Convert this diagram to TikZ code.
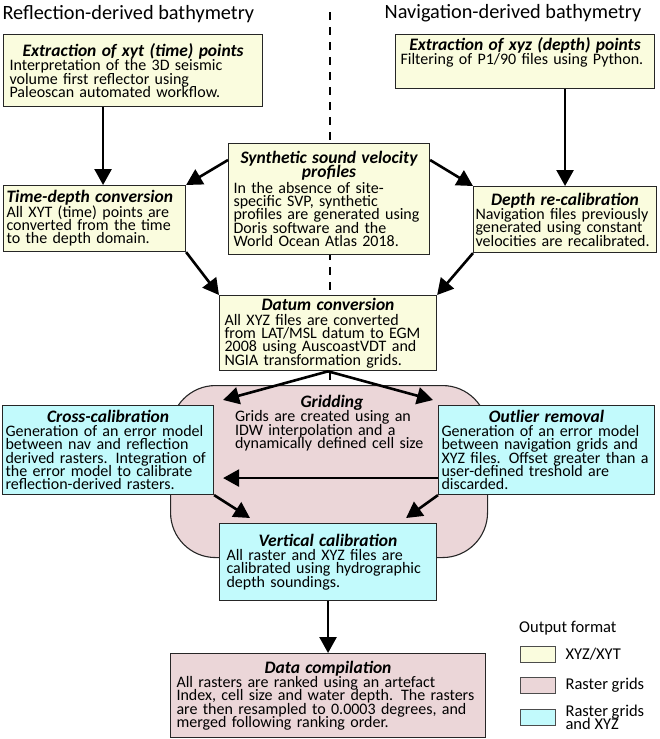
\documentclass[tikz,border=0pt]{standalone}
\usepackage{fontspec}
\setmainfont{Carlito}
\usetikzlibrary{arrows.meta}

\definecolor{xyzfill}{RGB}{250,252,222}
\definecolor{rasterfill}{RGB}{235,214,216}
\definecolor{bothfill}{RGB}{194,250,252}

% tight leading, lines may touch
\newcommand{\bodysize}{\fontsize{16}{13.3}\selectfont\lineskiplimit=-20pt\relax}
\newcommand{\headsize}{\fontsize{17.5}{14}\selectfont}
\newcommand{\keysize}{\fontsize{16.5}{13.5}\selectfont\lineskiplimit=-20pt\relax}
\newcommand{\bodyskip}{\rightskip=0pt plus 1fil minus 20pt\relax}
\newcommand{\stagehead}[1]{{\centering\bfseries\itshape\headsize #1\par}\vspace{1pt}\bodyskip}

\begin{document}
\begin{tikzpicture}[
  x=1pt, y=-1pt,
  font=\bodysize,
  stage/.style={
    draw=black!85,
    line width=1.1pt,
    anchor=north west,
    align=left,
    inner xsep=5pt,
    inner ysep=3pt
  },
  xyzbox/.style={stage, fill=xyzfill},
  rasterbox/.style={stage, fill=rasterfill},
  bothbox/.style={stage, fill=bothfill},
  swatch/.style={draw=black!70, line width=0.7pt, minimum width=35pt, minimum height=16pt, inner sep=0pt},
  key/.style={anchor=west, font=\keysize, xshift=10pt, inner sep=0pt, align=left},
  header/.style={font=\fontsize{20.3}{22}\selectfont},
  flow/.style={-{Triangle[length=16pt,width=17pt]}, line width=2.6pt}
]
\useasboundingbox (0,0) rectangle (660,739);

% split between the two branches
\draw[line width=1.6pt, dash pattern=on 8pt off 7pt] (330,12) -- (330,385);

\node[header, anchor=west] (reflTitle) at (-1,14) {Reflection-derived bathymetry};
\node[header] (navTitle) at (513,13) {Navigation-derived bathymetry};

% gridding blob sits behind the calibration boxes
\node[draw=black!85, line width=1.1pt, fill=rasterfill, rounded corners=45pt,
  minimum width=317pt, minimum height=172pt, anchor=north west] (gridBlob) at (170,385) {};
\node[anchor=north, text width=194pt, align=left, inner sep=0pt] (gridding) at (332,395)
  {\stagehead{Gridding}
   Grids are created using an\\
   IDW interpolation and a\\
   dynamically defined cell size};

\node[xyzbox, minimum width=259pt, minimum height=72pt, text width=247pt] (xytPoints) at (3,34)
  {\stagehead{Extraction of xyt (time) points}
   Interpretation of the 3D seismic\\
   volume first reflector using\\
   Paleoscan automated workflow.};

\node[xyzbox, minimum width=259pt, text width=249pt, text depth=35pt] (xyzPoints) at (395,34)
  {\stagehead{Extraction of xyz (depth) points}
   Filtering of P1/90 files using Python.};

\node[xyzbox, minimum width=201pt, minimum height=111pt, text width=191pt] (svp) at (228,143)
  {{\centering\bfseries\itshape\fontsize{17.5}{14}\selectfont Synthetic sound velocity\\profiles\par}
   \vspace{2pt}\bodyskip
   In the absence of site-\\
   specific SVP,  synthetic\\
   profiles are generated using\\
   Doris software and the\\
   World Ocean Atlas 2018.};

\node[xyzbox, minimum width=182pt, minimum height=66pt, text width=176pt, inner xsep=3pt] (timeDepth) at (3,185)
  {{\bfseries\itshape\headsize Time-depth conversion\par}\vspace{1pt}\bodyskip
   All XYT (time) points are\\
   converted from the time\\
   to the depth domain.};

\node[xyzbox, minimum width=183pt, minimum height=66pt, text width=179pt, inner xsep=2pt] (recal) at (473,186)
  {\stagehead{Depth re-calibration}
   Navigation files previously\\
   generated using constant\\
   velocities are recalibrated.};

\node[xyzbox, minimum width=217pt, minimum height=73pt, text width=207pt] (datum) at (219,295)
  {\stagehead{Datum conversion}
   All XYZ files are converted\\
   from LAT/MSL datum to EGM\\
   2008 using AuscoastVDT and\\
   NGIA transformation grids.};

\node[bothbox, minimum width=211pt, minimum height=89pt, text width=205pt, inner xsep=3pt] (crossCal) at (2,405)
  {\stagehead{Cross-calibration}
   Generation of an error model\\
   between nav and reflection\\
   derived rasters. Integration of\\
   the error model to calibrate\\
   reflection-derived rasters.};

\node[bothbox, minimum width=216pt, minimum height=89pt, text width=210pt, inner xsep=3pt] (outlier) at (438,405)
  {\stagehead{Outlier removal}
   Generation of an error model\\
   between navigation grids and\\
   XYZ files. Offset greater than a\\
   user-defined treshold are\\
   discarded.};

\node[bothbox, minimum width=217pt, minimum height=77pt, text width=203pt, inner xsep=7pt] (vertCal) at (219,523)
  {\stagehead{Vertical calibration}
   All raster and XYZ files are\\
   calibrated using hydrographic\\
   depth soundings.};

\node[rasterbox, minimum width=315pt, minimum height=84pt, text width=303pt, inner xsep=6pt] (compilation) at (170,653)
  {\stagehead{Data compilation}
   All rasters are ranked using an artefact\\
   Index,  cell size and water depth. The rasters\\
   are then resampled to 0.0003 degrees, and\\
   merged following ranking order.};

% flow between stages
\draw[flow] ([xshift=-30pt]xytPoints.south) -- ([xshift=-30pt]xytPoints.south |- timeDepth.north);
\draw[flow] (recal.north |- xyzPoints.south) -- (recal.north);
\draw[flow] ([yshift=-17pt]svp.north west) -- (timeDepth.north east);
\draw[flow] ([yshift=-17pt]svp.north east) -- (recal.north west);
\draw[flow] (timeDepth.south east) -- (datum.north west);
\draw[flow] (recal.south west) -- (datum.north east);
\draw[flow] (datum.south) -- ([xshift=9pt,yshift=5pt]crossCal.north east);
\draw[flow] (datum.south) -- ([xshift=-5pt,yshift=5pt]outlier.north west);
\draw[flow] ([yshift=-28pt]outlier.west) -- ([xshift=9pt,yshift=-28pt]crossCal.east);
\draw[flow] (crossCal.south east) -- ([xshift=31pt,yshift=5pt]vertCal.north west);
\draw[flow] (outlier.south west) -- ([xshift=-31pt,yshift=5pt]vertCal.north east);
\draw[flow] (vertCal.south) -- (compilation.north);

% legend
\node[anchor=west, font=\fontsize{16.5}{16}\selectfont, inner sep=0pt] (legendTitle) at (519,628) {Output format};
\node[swatch, fill=xyzfill] (keyXyz) at (537.5,654) {};
\node[swatch, fill=rasterfill] (keyRaster) at (537.5,685.5) {};
\node[swatch, fill=bothfill] (keyBoth) at (537.5,717.5) {};
\node[key] (labelXyz) at (keyXyz.east) {XYZ/XYT};
\node[key] (labelRaster) at (keyRaster.east) {Raster grids};
\node[key] (labelBoth) at (keyBoth.east) {Raster grids\\and XYZ};
\end{tikzpicture}
\end{document}
